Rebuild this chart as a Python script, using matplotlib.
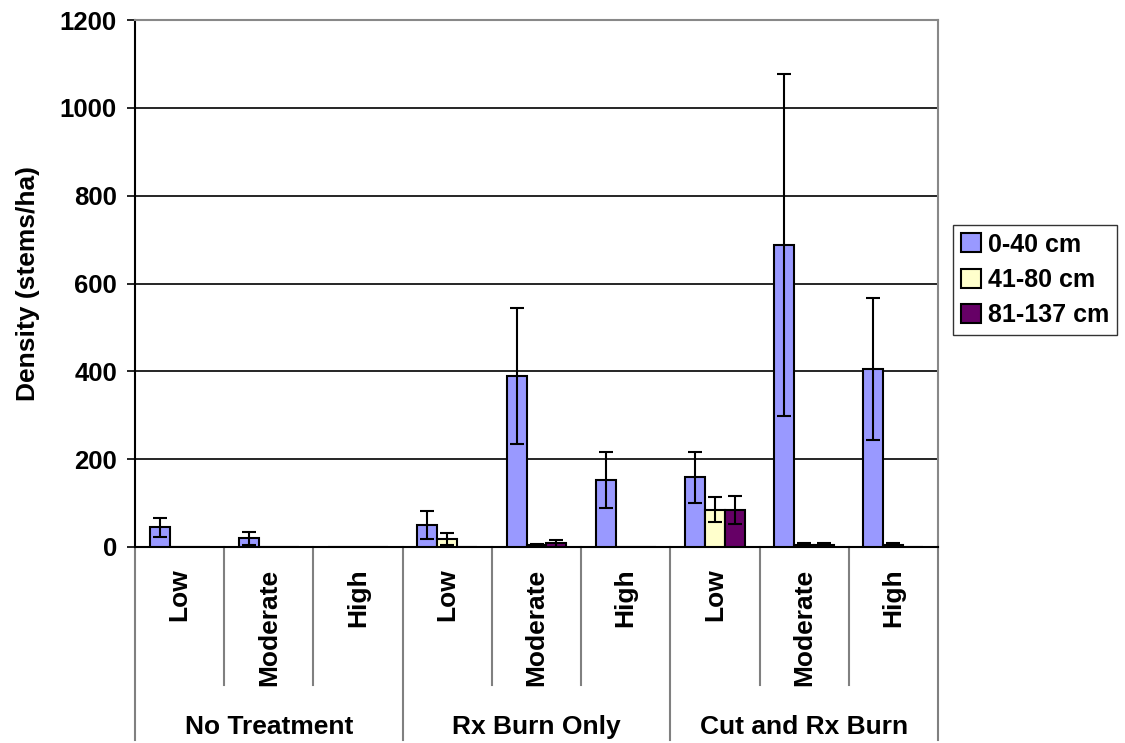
import numpy as np
from matplotlib import pyplot as plt

# data
treatments = ["No Treatment", "Rx Burn Only", "Cut and Rx Burn"]
severities = ["Low", "Moderate", "High"]
series_names = ["0-40 cm", "41-80 cm", "81-137 cm"]
series_colors = ["#9999FF", "#FFFFCC", "#660066"]

dens_0_40 = [45, 20, 0, 50, 390, 153, 159, 688, 405]
err_0_40 = [22, 15, 0, 32, 155, 64, 58, 390, 162]
dens_41_80 = [0, 0, 0, 19, 4, 0, 85, 5, 5]
err_41_80 = [0, 0, 0, 14, 3, 0, 29, 4, 4]
dens_81_137 = [0, 0, 0, 0, 9, 0, 85, 5, 0]
err_81_137 = [0, 0, 0, 0, 8, 0, 32, 4, 0]


def main():
    plt.rcParams["font.family"] = "Liberation Sans"
    plt.rcParams["font.weight"] = "bold"

    fig = plt.figure(figsize=(11.25, 7.43), dpi=100)
    ax = fig.add_axes([135 / 1125, 1 - 547 / 743, (938 - 135) / 1125, 527 / 743])

    x = np.arange(len(treatments) * len(severities))
    width = 0.224
    values = [dens_0_40, dens_41_80, dens_81_137]
    errors = [err_0_40, err_41_80, err_81_137]
    for i, (name, color) in enumerate(zip(series_names, series_colors)):
        pos = x + (i - 1) * width
        ax.bar(pos, values[i], width, color=color, edgecolor="black",
               linewidth=1.5, label=name, zorder=3)
        yerr = np.array(errors[i])
        mask = yerr > 0
        ax.errorbar(pos[mask], np.array(values[i])[mask], yerr=yerr[mask],
                    fmt="none", ecolor="black", elinewidth=1.5, capsize=5,
                    capthick=1.5, zorder=4)

    ax.set_xlim(-0.5, len(x) - 0.5)
    ax.set_ylim(0, 1200)
    ax.set_yticks(range(0, 1201, 200))
    ax.tick_params(axis="y", labelsize=18.5, length=6, width=1.2,
                   direction="out", pad=7)
    ax.set_xticks([])
    ax.yaxis.grid(True, color="black", linewidth=1.2, zorder=0)
    ax.set_axisbelow(True)
    ax.spines["left"].set_linewidth(1.5)
    ax.spines["bottom"].set_linewidth(1.5)
    for side in ["top", "right"]:
        ax.spines[side].set_color("#888888")
        ax.spines[side].set_linewidth(1.5)
    ax.set_ylabel("Density (stems/ha)", fontsize=19, fontweight="bold", labelpad=14)

    # two-level category axis below the plot
    trans = ax.get_xaxis_transform()
    for b in np.arange(len(x) + 1) - 0.5:
        long = int(b + 0.5) % 3 == 0
        ax.plot([b, b], [0, -0.366 if long else -0.262], color="#808080",
                linewidth=1.5, transform=trans, clip_on=False)
    for k in x:
        ax.text(k, -0.041, severities[k % 3], rotation=90, ha="center", va="top",
                fontsize=19, fontweight="bold", transform=trans)
    for g, name in enumerate(treatments):
        ax.text(3 * g + 1, -0.342, name, ha="center", va="center",
                fontsize=19, fontweight="bold", transform=trans)

    fig.legend(loc="upper left", bbox_to_anchor=(953 / 1125, 1 - 225 / 743),
               fontsize=18, frameon=True, fancybox=False, edgecolor="black",
               handlelength=0.8, handleheight=0.8, handletextpad=0.3,
               borderpad=0.3, labelspacing=0.45, borderaxespad=0)

    fig.savefig("out.png", dpi=100)


if __name__ == "__main__":
    main()
